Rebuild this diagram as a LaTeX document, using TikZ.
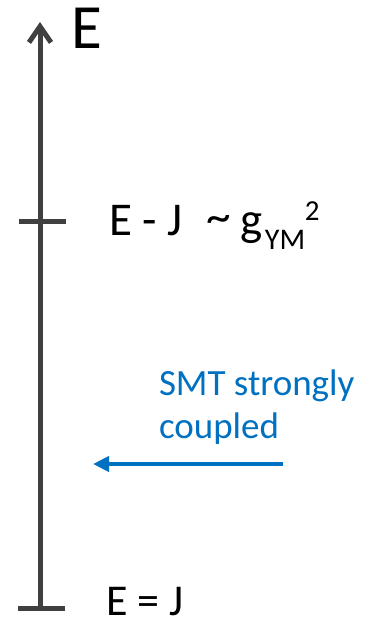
\documentclass[tikz,border=0pt]{standalone}
\usepackage{graphicx}
\usepackage{fontspec}
\setmainfont{Carlito}
\usetikzlibrary{arrows.meta}
\definecolor{axisgray}{HTML}{404040}
\definecolor{smtblue}{HTML}{0070C0}
\begin{document}
\begin{tikzpicture}[x=1pt,y=-1pt,
  axisline/.style={draw=axisgray,line width=5pt},
  ticks/.style={draw=axisgray,line width=5pt},
  lbl/.style={anchor=base west,inner sep=0pt,outer sep=0pt,text=black},
  bluelbl/.style={anchor=base west,inner sep=0pt,outer sep=0pt,text=smtblue,align=left},
  bluearrow/.style={draw=smtblue,line width=4pt,-{Triangle[length=16pt,width=15pt]}}]
\useasboundingbox (0,0) rectangle (373,622);
\coordinate (bot) at (40,608);
\coordinate (top) at (40,22);
\coordinate (t1l) at (19,221);
\coordinate (t1r) at (66,221);
\coordinate (t0l) at (18,608);
\coordinate (t0r) at (65,608);
\draw[axisline,-{Straight Barb[length=16pt,width=22pt]}] (bot) -- (top);
\draw[ticks] (t1l) -- (t1r);
\draw[ticks] (t0l) -- (t0r);
\node[lbl,font=\fontsize{63}{63}\selectfont] (elabel) at (71,48) {E};
\node[lbl,font=\fontsize{47}{47}\selectfont] (ej) at (109,235) {\rlap{E - J}\hspace*{97pt}\rlap{\raisebox{3pt}{\scalebox{1.05}[1.0]{\char`\~}}}\hspace*{35pt}\rlap{g}\hspace*{24pt}\rlap{\raisebox{-14pt}{\fontsize{30}{30}\selectfont YM}}\hspace*{40pt}\raisebox{15pt}{\fontsize{29}{29}\selectfont 2}};
\node[lbl,font=\fontsize{44}{44}\selectfont] (eqj) at (106,615) {E = J};
\node[bluelbl,font=\fontsize{37}{43}\selectfont] (smt) at (159,438) {SMT strongly\\coupled};
\coordinate (as) at (283,464);
\coordinate (ae) at (93,464);
\draw[bluearrow] (as) -- (ae);
\end{tikzpicture}
\end{document}
